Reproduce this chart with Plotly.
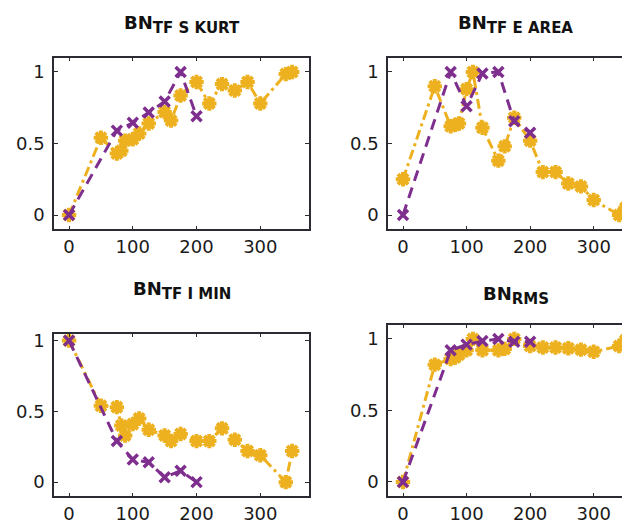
import plotly.graph_objects as go

W, H = 630, 526

# ---- data ----
x_orange = [0, 50, 75, 82, 88, 100, 110, 125, 150, 160, 175, 200, 220, 240, 260, 280, 300, 340, 350]
x_purple = [0, 75, 100, 125, 150, 175, 200]

skurt_orange = [0.0, 0.54, 0.43, 0.45, 0.52, 0.53, 0.57, 0.64, 0.72, 0.66, 0.835, 0.93, 0.78, 0.915, 0.87, 0.93, 0.78, 0.985, 1.0]
skurt_purple = [0.0, 0.59, 0.645, 0.716, 0.794, 1.0, 0.69]

earea_orange = [0.25, 0.90, 0.62, 0.63, 0.64, 0.88, 1.0, 0.61, 0.38, 0.48, 0.68, 0.52, 0.30, 0.30, 0.22, 0.20, 0.105, 0.0, 0.05]
earea_purple = [0.0, 1.0, 0.76, 0.99, 1.0, 0.655, 0.575]

imin_orange = [1.0, 0.54, 0.53, 0.40, 0.33, 0.41, 0.45, 0.37, 0.33, 0.29, 0.34, 0.29, 0.29, 0.38, 0.30, 0.22, 0.19, 0.0, 0.22]
imin_purple = [1.0, 0.29, 0.16, 0.14, 0.035, 0.08, 0.0]

rms_orange = [0.0, 0.82, 0.86, 0.87, 0.89, 0.92, 1.0, 0.92, 0.92, 0.93, 1.0, 0.95, 0.94, 0.94, 0.935, 0.925, 0.91, 0.95, 0.99]
rms_purple = [0.0, 0.92, 0.96, 0.985, 1.0, 0.98, 0.98]

title_main = ["BN", "BN", "BN", "BN"]
title_sub = ["TF S KURT", "TF E AREA", "TF I MIN", "RMS"]
x_ticks = [0, 100, 200, 300]
y_ticks = [0, 0.5, 1]
y_tick_text = ["0", "0.5", "1"]

ORANGE = "#EDB120"
PURPLE = "#7E2F8E"
AXC = "#2b2b33"
FONT = "DejaVu Sans, Liberation Sans, Arial, sans-serif"

panels = [
    (skurt_orange, skurt_purple),
    (earea_orange, earea_purple),
    (imin_orange, imin_purple),
    (rms_orange, rms_purple),
]

# pixel boxes (left, right, top, bottom)
boxes = [(46, 301, 46, 219), (380, 630, 46, 219), (46, 301, 324, 488), (380, 630, 315, 488)]
title_tops = [15, 15, 283, 288]
yranges = [[-0.1, 1.1], [-0.1, 1.1], [-0.1, 1.05], [-0.1, 1.1]]
xranges = [[-23.6, 376.4], [-23.6, 369.7], [-23.6, 376.4], [-23.6, 369.7]]

fig = go.Figure()
layout = dict(width=W, height=H, margin=dict(l=0, r=0, t=0, b=0),
              paper_bgcolor="white", plot_bgcolor="white", showlegend=False,
              font=dict(family=FONT, size=18, color="#1a1a1a"))
annotations = []
for i, ((yo, yp), (l, r, t, b)) in enumerate(zip(panels, boxes)):
    n = i + 1
    xa = "x" if n == 1 else f"x{n}"
    ya = "y" if n == 1 else f"y{n}"
    fig.add_trace(go.Scatter(
        x=x_orange, y=yo, xaxis=xa, yaxis=ya, mode="lines+markers",
        line=dict(color=ORANGE, width=3, dash="10px,4px,3px,4px"),
        marker=dict(symbol="asterisk-open", size=12, line=dict(color=ORANGE, width=4)),
        cliponaxis=False))
    fig.add_trace(go.Scatter(
        x=x_purple, y=yp, xaxis=xa, yaxis=ya, mode="lines+markers",
        line=dict(color=PURPLE, width=3, dash="11px,7px"),
        marker=dict(symbol="x-thin-open", size=10, line=dict(color=PURPLE, width=3.5)),
        cliponaxis=False))
    right_panel = i in (1, 3)
    layout[f"xaxis{'' if n == 1 else n}"] = dict(
        domain=[l / W, r / W], range=xranges[i], anchor=ya,
        tickvals=x_ticks, ticks="inside", ticklen=4, tickwidth=1, tickcolor=AXC,
        showline=True, linecolor=AXC, linewidth=1.5, mirror="allticks",
        showgrid=False, zeroline=False, ticklabelstandoff=0,
        tickfont=dict(size=18, family=FONT, color="#1a1a1a"))
    layout[f"yaxis{'' if n == 1 else n}"] = dict(
        domain=[1 - b / H, 1 - t / H], range=yranges[i], anchor=xa,
        tickvals=y_ticks, ticktext=y_tick_text, ticks="inside", ticklen=4, tickwidth=1, tickcolor=AXC,
        showline=True, linecolor=AXC, linewidth=1.5,
        mirror=False if right_panel else "allticks",
        showgrid=False, zeroline=False, ticklabelstandoff=4,
        tickfont=dict(size=18, family=FONT, color="#1a1a1a"))
    cx = ((l + (635 if right_panel else r)) / 2) / W
    annotations.append(dict(
        text=f"<b>{title_main[i]}<sub><span style='font-size:15px'>{title_sub[i]}</span></sub></b>",
        x=cx, xref="paper", y=1 - (title_tops[i] - 17) / H, yref="paper",
        xanchor="center", yanchor="top", showarrow=False,
        font=dict(size=18, family=FONT, color="#111111")))
layout["annotations"] = annotations
fig.update_layout(**layout)
fig.write_html("out.html")
